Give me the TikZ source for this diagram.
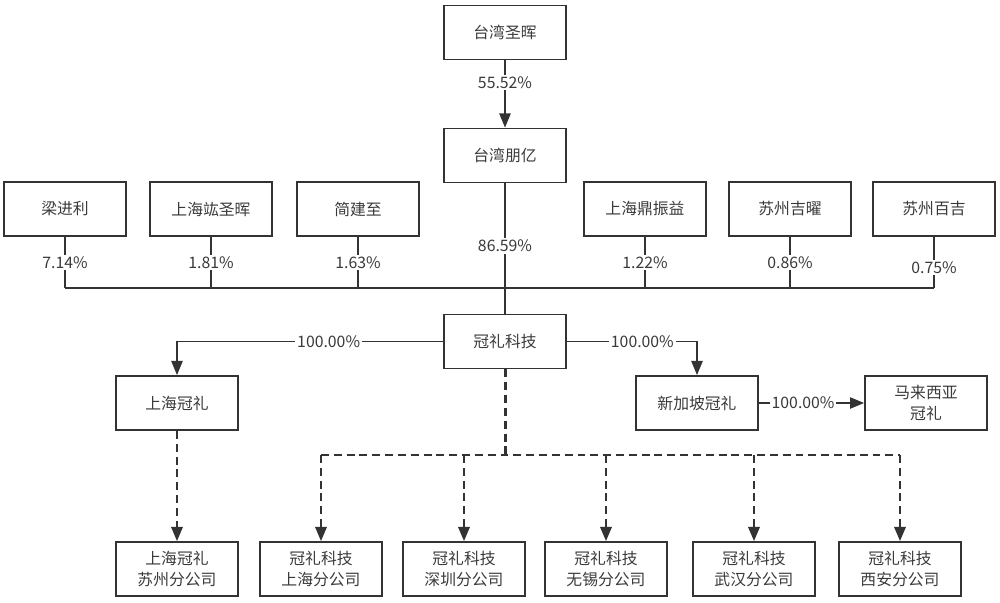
\documentclass[tikz,border=0pt]{standalone}
\usepackage{fontspec}
\setmainfont{Noto Sans CJK SC}
\usetikzlibrary{arrows.meta,positioning}
\definecolor{glLine}{HTML}{333333}
\definecolor{glText}{HTML}{3A3A3A}

\begin{document}
\begin{tikzpicture}[x=0.02cm, y=-0.02cm,
      ent/.style={draw=glLine, line width=1.1pt, align=center, text=glText,
        font=\fontsize{9}{11.5}\selectfont, inner sep=0pt, minimum width=2.44cm, minimum height=1.08cm},
      pct/.style={fill=white, text=glText, font=\fontsize{9}{11}\selectfont, inner sep=1pt},
      lnk/.style={draw=glLine, line width=0.6pt},
      arr/.style={lnk, -{Triangle[length=8pt, width=6.5pt]}},
      dsh/.style={draw=glLine, line width=1.1pt, dash pattern=on 4.5pt off 2.8pt},
      darr/.style={dsh, -{Triangle[length=8pt, width=6.5pt]}}]
    \useasboundingbox (0,0) rectangle (1000,602);

    % holding chain
    \node[ent] (tsh) at (505,32.5) {台湾圣晖};
    \node[ent] (tpy) at (505,155.5) {台湾朋亿};
    \node[ent] (glkj) at (505,341.5) {冠礼科技};

    % minority shareholders
    \node[ent] (ljl) at (65,209) {梁进利};
    \node[ent] (shhs) at (211,209) {上海竑圣晖};
    \node[ent] (jjz) at (358,209) {简建至};
    \node[ent] (shdz) at (645,209) {上海鼎振益};
    \node[ent] (szjy) at (790,209) {苏州吉曜};
    \node[ent] (szbj) at (934,209) {苏州百吉};

    % subsidiaries
    \node[ent] (shgl) at (177,403) {上海冠礼};
    \node[ent] (xjp) at (697,403) {新加坡冠礼};
    \node[ent] (mlx) at (926,403) {马来西亚\\冠礼};

    % branch offices
    \node[ent] (szfg) at (177,569) {上海冠礼\\苏州分公司};
    \node[ent] (shfg) at (321,569) {冠礼科技\\上海分公司};
    \node[ent] (sfg) at (464,569) {冠礼科技\\深圳分公司};
    \node[ent] (wxfg) at (606,569) {冠礼科技\\无锡分公司};
    \node[ent] (whfg) at (754,569) {冠礼科技\\武汉分公司};
    \node[ent] (xafg) at (900,569) {冠礼科技\\西安分公司};

    \coordinate (bus) at (0,288);
    \coordinate (dbus) at (0,455);

    \draw[arr] (tsh.south) -- node[pct, pos=0.33] {55.52\%} (tpy.north);
    \draw[lnk] (tpy.south) -- node[pct, pos=0.48] {86.59\%} (glkj.north);

    \foreach \n/\p/\q in {ljl/7.14/0.5, shhs/1.81/0.5, jjz/1.63/0.5,
        shdz/1.22/0.5, szjy/0.86/0.5, szbj/0.75/0.6}
      \draw[lnk] (\n.south) -- node[pct, pos=\q] {\p\%} (\n.south |- bus);
    \draw[lnk] (ljl.south |- bus) -- (szbj.south |- bus);

    \draw[arr] (glkj.west) -- node[pct, pos=0.43] {100.00\%} (glkj.west -| shgl.north) -- (shgl.north);
    \draw[arr] (glkj.east) -- node[pct, pos=0.58] {100.00\%} (glkj.east -| xjp.north) -- (xjp.north);
    \draw[arr] (xjp) -- node[pct, pos=0.42] {100.00\%} (mlx);

    % branch offices (dashed)
    \draw[dsh, line width=1.7pt] (glkj.south) -- (glkj.south |- dbus);
    \draw[dsh] (shfg.north |- dbus) -- (xafg.north |- dbus);
    \foreach \n in {shfg,sfg,wxfg,whfg,xafg}
      \draw[darr] (\n.north |- dbus) -- (\n.north);
    \draw[darr] (shgl) -- (szfg);
  \end{tikzpicture}
\end{document}
